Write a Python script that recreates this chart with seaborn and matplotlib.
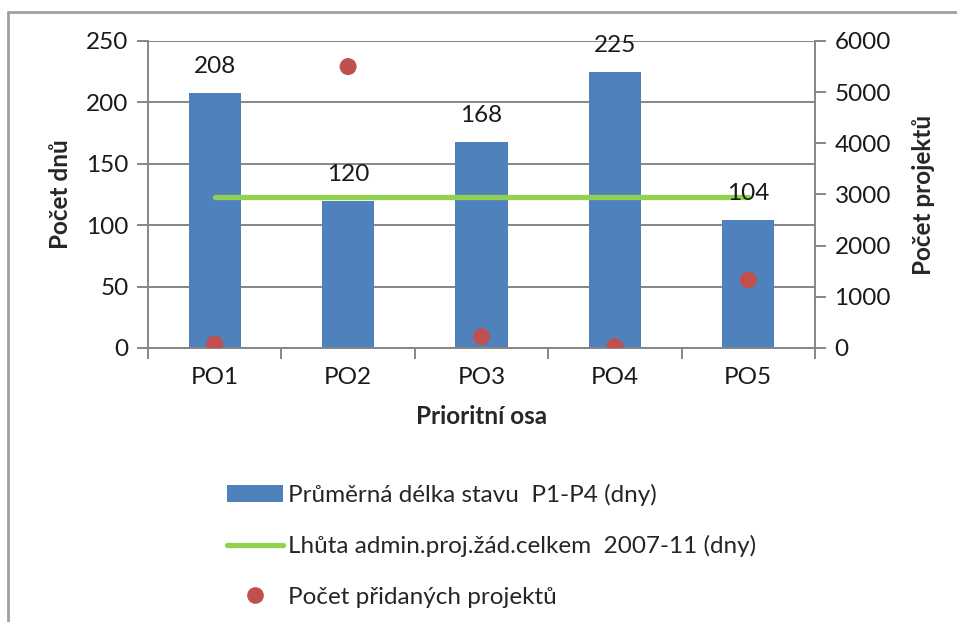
import matplotlib
matplotlib.use("Agg")
import matplotlib.pyplot as plt
from matplotlib.lines import Line2D
from matplotlib.patches import Patch
import seaborn as sns
import numpy as np

categories = ["PO1", "PO2", "PO3", "PO4", "PO5"]
avg_days = [208, 120, 168, 225, 104]
limit_days = [123, 123, 123, 123, 123]
added_projects = [80, 5500, 220, 25, 1330]

bar_label = "Průměrná délka stavu  P1-P4 (dny)"
line_label = "Lhůta admin.proj.žád.celkem  2007-11 (dny)"
dot_label = "Počet přidaných projektů"

sns.set_theme(style="white")
plt.rcParams["font.family"] = ["Lato", "DejaVu Sans"]
FS = 17.5
grid_c = "#868686"

W, H = 957, 622
fig = plt.figure(figsize=(W / 100, H / 100), dpi=100)
ax = fig.add_axes([148 / W, 1 - 348 / H, 667 / W, 307 / H])

sns.barplot(x=categories, y=avg_days, color="#4F81BD", saturation=1, width=0.39, ax=ax, zorder=2)
for p in ax.patches:
    p.set_edgecolor("none")
for i, v in enumerate(avg_days):
    ax.annotate(str(v), (i, v), xytext=(0, 19), textcoords="offset points",
                ha="center", va="center", fontsize=FS, color="#1a1a1a", zorder=6)

ax.set_ylim(0, 250)
ax.set_yticks(np.arange(0, 251, 50))
ax.set_xlim(-0.5, 4.5)
ax.yaxis.grid(True, color=grid_c, lw=1.4, zorder=0)
ax.set_axisbelow(True)
ax.set_xticks(range(5))
ax.set_xticklabels(categories)
ax.set_xticks(np.arange(-0.5, 5, 1), minor=True)
ax.tick_params(axis="x", which="major", length=0, labelsize=FS, pad=14, colors="#1a1a1a")
ax.tick_params(axis="x", which="minor", length=8, width=1.4, color=grid_c, direction="out", bottom=True)
ax.tick_params(axis="y", length=8, width=1.4, color=grid_c, labelsize=FS, pad=6, left=True, labelcolor="#1a1a1a")
for s in ["top", "right"]:
    ax.spines[s].set_visible(False)
for s in ["left", "bottom"]:
    ax.spines[s].set_color(grid_c)
    ax.spines[s].set_linewidth(1.4)
ax.set_xlabel("Prioritní osa", fontsize=FS, fontweight="bold", labelpad=12)
ax.set_ylabel("Počet dnů", fontsize=FS, fontweight="bold", labelpad=10)

sns.lineplot(x=categories, y=limit_days, color="#92D050", lw=3.8, ax=ax, zorder=4)

ax2 = ax.twinx()
sns.scatterplot(x=categories, y=added_projects, color="#C0504D", s=150, edgecolor="none", ax=ax2, zorder=5)
ax2.set_ylim(0, 6000)
ax2.set_yticks(np.arange(0, 6001, 1000))
ax2.set_xlim(-0.5, 4.5)
ax2.tick_params(axis="y", length=8, width=1.4, color=grid_c, labelsize=FS, pad=6, right=True, labelcolor="#1a1a1a")
for s in ["top", "left", "bottom"]:
    ax2.spines[s].set_visible(False)
ax2.spines["right"].set_color(grid_c)
ax2.spines["right"].set_linewidth(1.4)
ax2.set_ylabel("Počet projektů", fontsize=FS, fontweight="bold", labelpad=15)
ax2.grid(False)

handles = [
    Patch(facecolor="#4F81BD", edgecolor="none"),
    Line2D([], [], color="#92D050", lw=3.8),
    Line2D([], [], color="#C0504D", marker="o", ls="none", markersize=11),
]
fig.legend(handles, [bar_label, line_label, dot_label], loc="upper left",
           bbox_to_anchor=(227 / W, 1 - 484 / H), frameon=False, fontsize=FS,
           handlelength=2.3, handletextpad=0.22, labelspacing=1.2, borderpad=0,
           borderaxespad=0)

fig.add_artist(Line2D([8 / W, 8 / W], [0, 1 - 12 / H], transform=fig.transFigure, color="#A0A0A0", lw=2))
fig.add_artist(Line2D([8 / W, 1], [1 - 12 / H, 1 - 12 / H], transform=fig.transFigure, color="#A0A0A0", lw=2))

fig.savefig("out.png", dpi=100)
